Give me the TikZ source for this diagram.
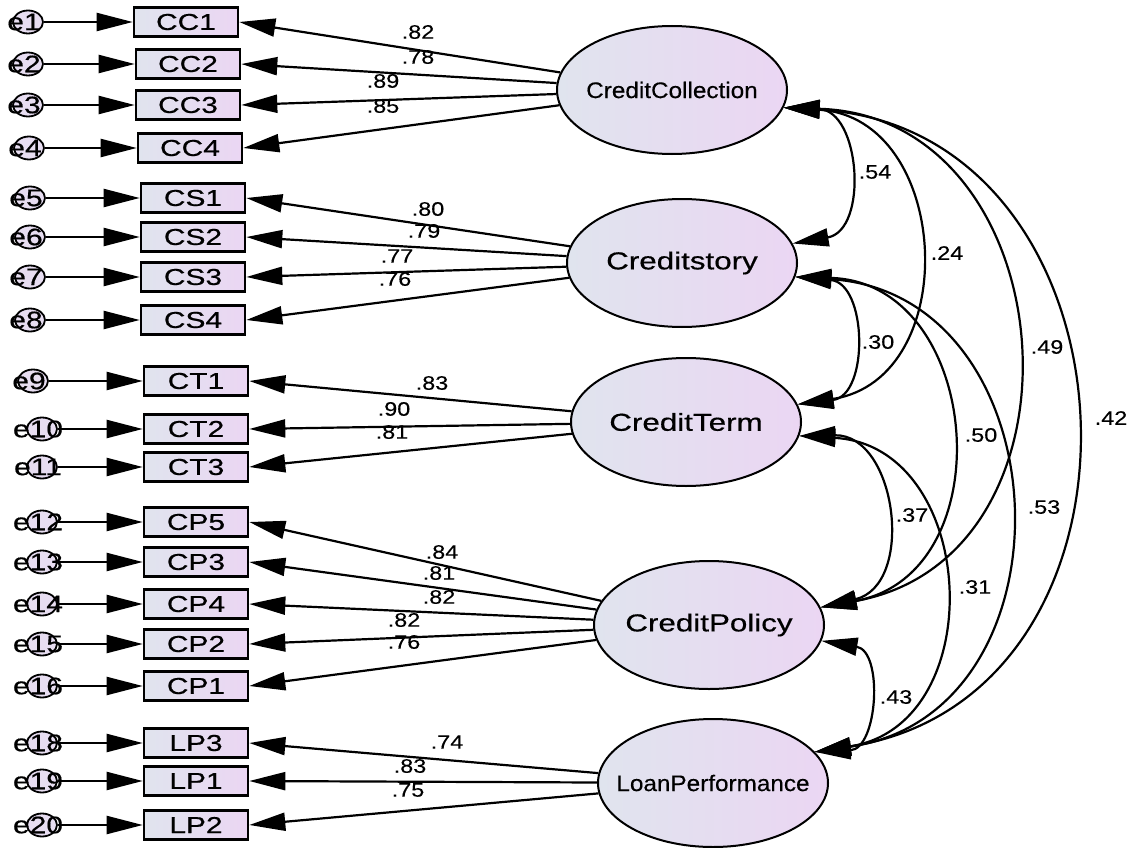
\documentclass[tikz,border=0pt]{standalone}
\usepackage{fontspec}
\setmainfont{Liberation Sans}
\newfontfamily\boxfnt{Liberation Sans}[FakeStretch=1.3,FakeBold=0.6]
\newfontfamily\numfnt{Liberation Sans}[FakeStretch=1.2,FakeBold=0.3]
\newfontfamily\bigfnt{Liberation Sans}[FakeStretch=1.28,FakeBold=0.5]
\newfontfamily\smlfnt{Liberation Sans}[FakeStretch=1.08,FakeBold=0.3]
\newfontfamily\errfnt{Liberation Sans}[FakeStretch=1.25,FakeBold=0.5]
\usetikzlibrary{arrows.meta,shapes.geometric,calc}

\definecolor{shadeA}{RGB}{224,228,238}
\definecolor{shadeB}{RGB}{235,214,243}
\definecolor{errfill}{RGB}{231,221,241}

\tikzset{
  lat/.style={ellipse, draw=black, line width=2pt, minimum width=230pt,
    minimum height=128pt, inner sep=0pt, left color=shadeA, right color=shadeB},
  latbig/.style={lat, font=\bigfnt\fontsize{24.5}{24.5}\selectfont},
  latsml/.style={lat, font=\smlfnt\fontsize{22.5}{22.5}\selectfont},
  obs/.style={rectangle, draw=black, line width=2.6pt, minimum width=104pt,
    minimum height=29pt, inner sep=0pt, left color=shadeA, right color=shadeB,
    font=\boxfnt\fontsize{23}{23}\selectfont},
  err/.style={ellipse, draw=black, line width=1.8pt, minimum width=30pt,
    minimum height=23pt, inner sep=0pt, fill=errfill},
  errtxt/.style={font=\errfnt\fontsize{24}{24}\selectfont, inner sep=0pt, xshift=-4pt},
  arr/.style={line width=2.2pt, -{Triangle[length=36pt,width=18pt]}},
  cov/.style={line width=2.2pt,
    {Triangle[length=36pt,width=18pt]}-{Triangle[length=36pt,width=18pt]},
    bend left=84, looseness=1.45},
  num/.style={font=\numfnt\fontsize{19.5}{19.5}\selectfont, inner sep=0pt},
}

\begin{document}
\begin{tikzpicture}[x=1pt, y=-1pt]
\useasboundingbox (0,0) rectangle (1132,848);

% latent variables
\node[latsml] (cc) at (672,90)  {\makebox[0pt]{CreditCollection}};
\node[latbig] (cs) at (682,263) {\makebox[0pt]{Creditstory}};
\node[latbig] (ct) at (686,422) {\makebox[0pt]{CreditTerm}};
\node[latbig] (cp) at (709,625) {\makebox[0pt]{CreditPolicy}};
\node[latsml] (lp) at (713,783) {\makebox[0pt]{LoanPerformance}};

% observed indicators
\node[obs] (cc1) at (186,22)  {CC1};
\node[obs] (cc2) at (188,64)  {CC2};
\node[obs] (cc3) at (188,105) {CC3};
\node[obs] (cc4) at (190,148) {CC4};
\node[obs] (cs1) at (193,198) {CS1};
\node[obs] (cs2) at (193,237) {CS2};
\node[obs] (cs3) at (193,277) {CS3};
\node[obs] (cs4) at (193,320) {CS4};
\node[obs] (ct1) at (196,381) {CT1};
\node[obs] (ct2) at (196,429) {CT2};
\node[obs] (ct3) at (196,467) {CT3};
\node[obs] (cp5) at (196,522) {CP5};
\node[obs] (cp3) at (196,562) {CP3};
\node[obs] (cp4) at (196,604) {CP4};
\node[obs] (cp2) at (196,644) {CP2};
\node[obs] (cp1) at (196,686) {CP1};
\node[obs] (lp3) at (196,743) {LP3};
\node[obs] (lp1) at (196,781) {LP1};
\node[obs] (lp2) at (196,825) {LP2};

% error terms
\foreach \en/\bx/\ex in {e1/cc1/28, e2/cc2/28, e3/cc3/28, e4/cc4/29,
                      e5/cs1/30, e6/cs2/30, e7/cs3/30, e8/cs4/30,
                      e9/ct1/33, e10/ct2/42, e11/ct3/42,
                      e12/cp5/42, e13/cp3/42, e14/cp4/42, e15/cp2/42, e16/cp1/42,
                      e18/lp3/42, e19/lp1/42, e20/lp2/42}{
  \node[err, label={[errtxt]center:\en}] (\en) at (\ex,0 |- \bx) {};
  \draw[arr] (\en) -- (\bx.west);
}

% factor loadings
\foreach \bx in {cc1,cc2,cc3,cc4} \draw[arr] (cc) -- (\bx.east);
\foreach \bx in {cs1,cs2,cs3,cs4} \draw[arr] (cs) -- (\bx.east);
\foreach \bx in {ct1,ct2,ct3} \draw[arr] (ct) -- (\bx.east);
\foreach \bx in {cp5,cp3,cp4,cp2,cp1} \draw[arr] (cp) -- (\bx.east);
\foreach \bx in {lp3,lp1,lp2} \draw[arr] (lp) -- (\bx.east);

\node[num] at (418,32)  {.82};
\node[num] at (418,57)  {.78};
\node[num] at (383,81)  {.89};
\node[num] at (383,106) {.85};
\node[num] at (428,209) {.80};
\node[num] at (424,231) {.79};
\node[num] at (397,256) {.77};
\node[num] at (395,279) {.76};
\node[num] at (432,383) {.83};
\node[num] at (394,409) {.90};
\node[num] at (392,432) {.81};
\node[num] at (442,552) {.84};
\node[num] at (439,573) {.81};
\node[num] at (439,597) {.82};
\node[num] at (404,620) {.82};
\node[num] at (404,642) {.76};
\node[num] at (447,742) {.74};
\node[num] at (410,766) {.83};
\node[num] at (408,790) {.75};

% covariances
\draw[cov] (cc.-9) to (cs.10);
\draw[cov] (cc.-9) to (ct.9);
\draw[cov] (cc.-9) to (cp.9);
\draw[cov] (cc.-9) to (lp.17);
\draw[cov] (cs.-7) to (ct.9);
\draw[cov] (cs.-7) to (cp.9);
\draw[cov] (cs.-7) to (lp.17);
\draw[cov] (ct.-7) to (cp.9);
\draw[cov] (ct.-7) to (lp.17);
\draw[cov] (cp.-8) to (lp.17);

\node[num] at (875,172)  {.54};
\node[num] at (947,253)  {.24};
\node[num] at (1047,347) {.49};
\node[num] at (1111,418) {.42};
\node[num] at (878,342)  {.30};
\node[num] at (981,435)  {.50};
\node[num] at (1044,507) {.53};
\node[num] at (912,515)  {.37};
\node[num] at (975,587)  {.31};
\node[num] at (896,697)  {.43};
\end{tikzpicture}
\end{document}
